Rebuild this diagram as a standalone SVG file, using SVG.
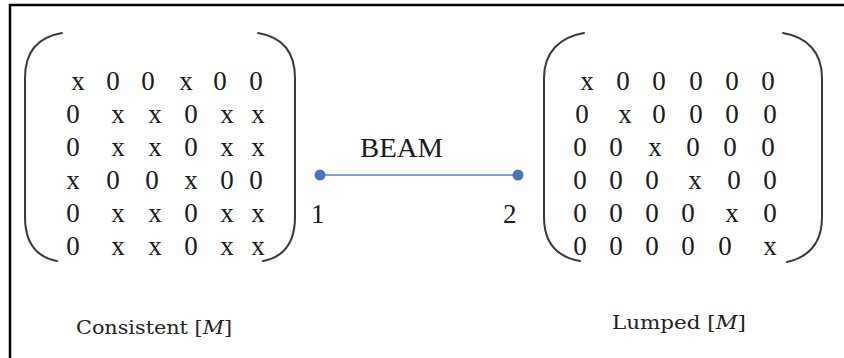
<svg xmlns="http://www.w3.org/2000/svg" width="844" height="358" viewBox="0 0 844 358">
  <style>
    .frame { stroke: #000; stroke-width: 2.5; fill: none; }
    .paren { stroke: #3a3a3a; stroke-width: 2; fill: none; stroke-linecap: round; }
    .cell { font-family: "Liberation Serif", "Times New Roman", serif; font-size: 27px; fill: #1a1a1a; text-anchor: middle; }
    .lbl { font-family: "Liberation Serif", "Times New Roman", serif; font-size: 27px; fill: #1a1a1a; }
    .cap { font-family: "DejaVu Serif Condensed", "DejaVu Serif", serif; font-size: 19px; fill: #222; }
    .beam { stroke: #5a7fb8; stroke-width: 1.6; }
    .node { fill: #4a74b5; }
  </style>

  <!-- outer frame: top and left edges only -->
  <path class="frame" d="M10,358 L10,5 L844,5"/>

  <!-- consistent mass matrix -->
  <g id="consistent-matrix">
    <path class="paren" d="M62,33 C38,37 25,52 25,78 L25,217 C25,243 36,257 57,261"/>
    <path class="paren" d="M258,33 C282,37 295,52 295,78 L295,217 C295,243 284,257 263,261"/>
    <text class="cell" y="90" x="78 95 113 130 148 167 186 203 220 238 256">x 0 0 x 0 0</text>
    <text class="cell" y="123" x="73 95 118 136 155 173 191 209 227 242 258">0 x x 0 x x</text>
    <text class="cell" y="156" x="73 95 118 136 155 173 191 209 227 242 258">0 x x 0 x x</text>
    <text class="cell" y="189" x="73 93 113 132 152 171 191 209 227 242 256">x 0 0 x 0 0</text>
    <text class="cell" y="222" x="73 95 118 136 155 173 191 209 227 242 258">0 x x 0 x x</text>
    <text class="cell" y="255" x="73 95 118 136 155 173 191 209 227 242 258">0 x x 0 x x</text>
    <text class="cap" x="76" y="334" textLength="156" lengthAdjust="spacingAndGlyphs">Consistent [<tspan font-style="italic">M</tspan>]</text>
  </g>

  <!-- lumped mass matrix -->
  <g id="lumped-matrix">
    <path class="paren" d="M584,33 C560,37 544,52 544,78 L544,217 C544,243 557,257 580,261"/>
    <path class="paren" d="M783,33 C807,37 822,52 822,78 L822,217 C822,243 809,257 787,262"/>
    <text class="cell" y="90" x="587 605 623 641 659 677 696 714 732 750 768">x 0 0 0 0 0</text>
    <text class="cell" y="123" x="582 603 625 642 659 677 696 714 732 751 770">0 x 0 0 0 0</text>
    <text class="cell" y="156" x="580 598 616 635 655 674 693 711 730 749 768">0 0 x 0 0 0</text>
    <text class="cell" y="189" x="580 598 616 634 652 673 695 714 734 752 770">0 0 0 x 0 0</text>
    <text class="cell" y="222" x="580 598 616 634 652 670 688 710 732 751 770">0 0 0 0 x 0</text>
    <text class="cell" y="255" x="580 598 616 634 652 670 688 706 725 747 770">0 0 0 0 0 x</text>
    <text class="cap" x="612" y="329" textLength="134" lengthAdjust="spacingAndGlyphs">Lumped [<tspan font-style="italic">M</tspan>]</text>
  </g>

  <!-- beam element between nodes 1 and 2 -->
  <g id="connectors">
    <line class="beam" x1="320" y1="175" x2="518" y2="175"/>
  </g>
  <g id="node-1">
    <circle class="node" cx="320" cy="175" r="5.5"/>
    <text class="lbl" x="311" y="223">1</text>
  </g>
  <g id="node-2">
    <circle class="node" cx="518" cy="175" r="5.5"/>
    <text class="lbl" x="503" y="223">2</text>
  </g>
  <g id="beam-label">
    <text class="lbl" x="360" y="157" textLength="83" lengthAdjust="spacingAndGlyphs">BEAM</text>
  </g>
</svg>
